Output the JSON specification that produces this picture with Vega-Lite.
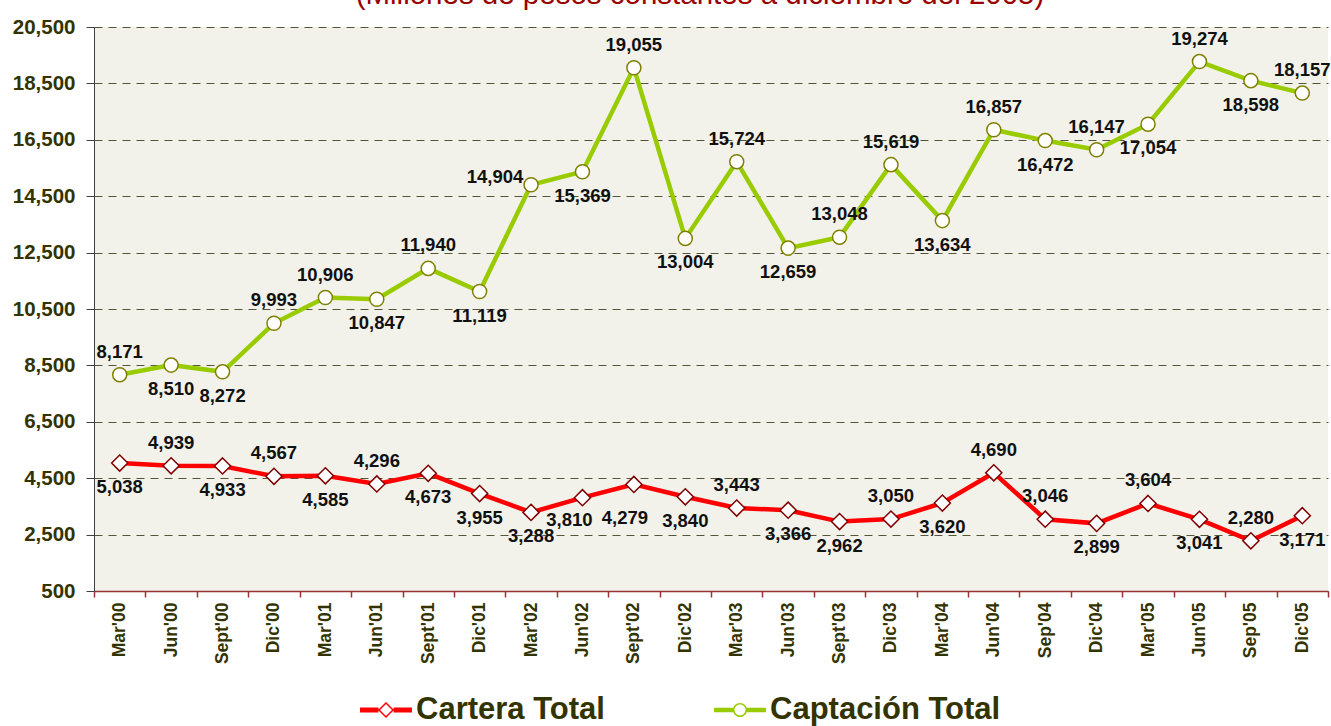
{
  "$schema": "https://vega.github.io/schema/vega-lite/v6.json",
  "width": 1234,
  "height": 564,
  "autosize": {"type": "none"},
  "padding": {"left": 94, "top": 27, "right": 3, "bottom": 135},
  "background": "white",
  "title": {
    "text": "(Millones de pesos constantes a diciembre del 2005)",
    "font": "Liberation Sans, Arial, sans-serif",
    "fontSize": 29.5,
    "fontWeight": "normal",
    "color": "#990000",
    "anchor": "middle",
    "baseline": "alphabetic",
    "dx": -11,
    "offset": -16
  },
  "config": {
    "font": "Liberation Sans, Arial, sans-serif",
    "view": {"fill": "#F2F2EA", "stroke": null}
  },
  "data": {
    "values": [
      {"mes": "Mar'00", "serie": "Cartera Total", "valor": 5038},
      {"mes": "Jun'00", "serie": "Cartera Total", "valor": 4939},
      {"mes": "Sept'00", "serie": "Cartera Total", "valor": 4933},
      {"mes": "Dic'00", "serie": "Cartera Total", "valor": 4567},
      {"mes": "Mar'01", "serie": "Cartera Total", "valor": 4585},
      {"mes": "Jun'01", "serie": "Cartera Total", "valor": 4296},
      {"mes": "Sept'01", "serie": "Cartera Total", "valor": 4673},
      {"mes": "Dic'01", "serie": "Cartera Total", "valor": 3955},
      {"mes": "Mar'02", "serie": "Cartera Total", "valor": 3288},
      {"mes": "Jun'02", "serie": "Cartera Total", "valor": 3810},
      {"mes": "Sept'02", "serie": "Cartera Total", "valor": 4279},
      {"mes": "Dic'02", "serie": "Cartera Total", "valor": 3840},
      {"mes": "Mar'03", "serie": "Cartera Total", "valor": 3443},
      {"mes": "Jun'03", "serie": "Cartera Total", "valor": 3366},
      {"mes": "Sept'03", "serie": "Cartera Total", "valor": 2962},
      {"mes": "Dic'03", "serie": "Cartera Total", "valor": 3050},
      {"mes": "Mar'04", "serie": "Cartera Total", "valor": 3620},
      {"mes": "Jun'04", "serie": "Cartera Total", "valor": 4690},
      {"mes": "Sep'04", "serie": "Cartera Total", "valor": 3046},
      {"mes": "Dic'04", "serie": "Cartera Total", "valor": 2899},
      {"mes": "Mar'05", "serie": "Cartera Total", "valor": 3604},
      {"mes": "Jun'05", "serie": "Cartera Total", "valor": 3041},
      {"mes": "Sep'05", "serie": "Cartera Total", "valor": 2280},
      {"mes": "Dic'05", "serie": "Cartera Total", "valor": 3171},
      {"mes": "Mar'00", "serie": "Captación Total", "valor": 8171},
      {"mes": "Jun'00", "serie": "Captación Total", "valor": 8510},
      {"mes": "Sept'00", "serie": "Captación Total", "valor": 8272},
      {"mes": "Dic'00", "serie": "Captación Total", "valor": 9993},
      {"mes": "Mar'01", "serie": "Captación Total", "valor": 10906},
      {"mes": "Jun'01", "serie": "Captación Total", "valor": 10847},
      {"mes": "Sept'01", "serie": "Captación Total", "valor": 11940},
      {"mes": "Dic'01", "serie": "Captación Total", "valor": 11119},
      {"mes": "Mar'02", "serie": "Captación Total", "valor": 14904},
      {"mes": "Jun'02", "serie": "Captación Total", "valor": 15369},
      {"mes": "Sept'02", "serie": "Captación Total", "valor": 19055},
      {"mes": "Dic'02", "serie": "Captación Total", "valor": 13004},
      {"mes": "Mar'03", "serie": "Captación Total", "valor": 15724},
      {"mes": "Jun'03", "serie": "Captación Total", "valor": 12659},
      {"mes": "Sept'03", "serie": "Captación Total", "valor": 13048},
      {"mes": "Dic'03", "serie": "Captación Total", "valor": 15619},
      {"mes": "Mar'04", "serie": "Captación Total", "valor": 13634},
      {"mes": "Jun'04", "serie": "Captación Total", "valor": 16857},
      {"mes": "Sep'04", "serie": "Captación Total", "valor": 16472},
      {"mes": "Dic'04", "serie": "Captación Total", "valor": 16147},
      {"mes": "Mar'05", "serie": "Captación Total", "valor": 17054},
      {"mes": "Jun'05", "serie": "Captación Total", "valor": 19274},
      {"mes": "Sep'05", "serie": "Captación Total", "valor": 18598},
      {"mes": "Dic'05", "serie": "Captación Total", "valor": 18157}
    ]
  },
  "encoding": {
    "x": {
      "field": "mes",
      "type": "nominal",
      "sort": ["Mar'00","Jun'00","Sept'00","Dic'00","Mar'01","Jun'01","Sept'01","Dic'01","Mar'02","Jun'02","Sept'02","Dic'02","Mar'03","Jun'03","Sept'03","Dic'03","Mar'04","Jun'04","Sep'04","Dic'04","Mar'05","Jun'05","Sep'05","Dic'05"],
      "scale": {"type": "band", "paddingInner": 0, "paddingOuter": 0},
      "axis": {
        "title": null,
        "labelAngle": -90,
        "labelFontSize": 17.5,
        "labelFontWeight": "bold",
        "labelColor": "#333300",
        "labelPadding": 5,
        "tickBand": "extent",
        "tickSize": 6,
        "tickColor": "#993333",
        "domainColor": "#993333",
        "domainWidth": 1.5,
        "tickWidth": 1.5,
        "grid": false
      }
    },
    "y": {
      "field": "valor",
      "type": "quantitative",
      "scale": {"domain": [500, 20500], "nice": false, "zero": false},
      "axis": {
        "title": null,
        "values": [500, 2500, 4500, 6500, 8500, 10500, 12500, 14500, 16500, 18500, 20500],
        "format": ",.0f",
        "labelFontSize": 20.5,
        "labelFontWeight": "bold",
        "labelColor": "#333300",
        "labelPadding": 11,
        "tickSize": 8,
        "tickColor": "#404040",
        "domainColor": "#404040",
        "grid": true,
        "gridColor": "#55553a",
        "gridDash": [8, 6],
        "gridWidth": 1
      }
    }
  },
  "layer": [
    {
      "mark": {"type": "line", "strokeWidth": 4.5},
      "encoding": {
        "color": {
          "field": "serie",
          "type": "nominal",
          "sort": ["Cartera Total", "Captación Total"],
          "scale": {"range": ["#FF0000", "#99CC00"]},
          "legend": {
            "title": null,
            "orient": "none",
            "legendX": 266,
            "legendY": 657,
            "direction": "horizontal",
            "padding": 0,
            "symbolSize": 2704,
            "symbolStrokeWidth": 0,
            "labelFont": "Liberation Sans, Arial, sans-serif",
            "labelFontSize": 31,
            "labelFontWeight": "bold",
            "labelColor": "#333300",
            "labelOffset": 4,
            "columnPadding": 109,
            "labelLimit": 400,
            "encode": {
              "symbols": {
                "update": {
                  "shape": {"signal": "datum.value === 'Cartera Total' ? 'M-1,-0.096L-0.29,-0.096L-0.29,0.096L-1,0.096ZM0.29,-0.096L1,-0.096L1,0.096L0.29,0.096ZM0,-0.31L0.31,0L0,0.31L-0.31,0ZM0,-0.23L-0.23,0L0,0.23L0.23,0Z' : 'M-1,-0.085L-0.25,-0.085L-0.25,0.085L-1,0.085ZM0.25,-0.085L1,-0.085L1,0.085L0.25,0.085ZM-0.27,0A0.27,0.27 0 1,1 0.27,0A0.27,0.27 0 1,1 -0.27,0ZM-0.21,0A0.21,0.21 0 1,0 0.21,0A0.21,0.21 0 1,0 -0.21,0Z'"},
                  "fill": {"scale": "color", "field": "value"},
                  "fillOpacity": {"value": 1},
                  "strokeWidth": {"value": 0},
                  "opacity": {"value": 1}
                }
              }
            }
          }
        }
      }
    },
    {
      "mark": {"type": "point", "filled": false, "fill": "white", "fillOpacity": 1, "opacity": 1, "size": 2704, "strokeWidth": 1.5},
      "encoding": {
        "shape": {
          "field": "serie",
          "type": "nominal",
          "sort": ["Cartera Total", "Captación Total"],
          "scale": {"range": ["M0,-0.31L0.31,0L0,0.31L-0.31,0Z", "M-0.27,0A0.27,0.27 0 1,0 0.27,0A0.27,0.27 0 1,0 -0.27,0Z"]},
          "legend": null
        },
        "stroke": {
          "field": "serie",
          "type": "nominal",
          "sort": ["Cartera Total", "Captación Total"],
          "scale": {"range": ["#800000", "#808000"]},
          "legend": null
        }
      }
    },
    {
      "transform": [{"filter": {"or": [
        {"and": [{"field": "serie", "equal": "Captación Total"}, {"field": "mes", "oneOf": ["Mar'00","Dic'00","Mar'01","Sept'01","Sept'02","Mar'03","Sept'03","Dic'03","Jun'04","Dic'04","Jun'05","Dic'05"]}]},
        {"and": [{"field": "serie", "equal": "Cartera Total"}, {"field": "mes", "oneOf": ["Jun'00","Dic'00","Jun'01","Mar'03","Dic'03","Jun'04","Sep'04","Mar'05","Sep'05"]}]}
      ]}}],
      "mark": {"type": "text", "dy": -23, "fontSize": 18.5, "fontWeight": "bold", "color": "#111111", "baseline": "middle", "align": "center"},
      "encoding": {"text": {"field": "valor", "type": "quantitative", "format": ",.0f"}}
    },
    {
      "transform": [{"filter": {"or": [
        {"and": [{"field": "serie", "equal": "Captación Total"}, {"field": "mes", "oneOf": ["Jun'00","Sept'00","Jun'01","Dic'01","Jun'02","Dic'02","Jun'03","Mar'04","Sep'04","Mar'05","Sep'05"]}]},
        {"and": [{"field": "serie", "equal": "Cartera Total"}, {"field": "mes", "oneOf": ["Mar'00","Sept'00","Mar'01","Sept'01","Dic'01","Mar'02","Dic'02","Jun'03","Sept'03","Mar'04","Dic'04","Jun'05","Dic'05"]}]}
      ]}}],
      "mark": {"type": "text", "dy": 24, "fontSize": 18.5, "fontWeight": "bold", "color": "#111111", "baseline": "middle", "align": "center"},
      "encoding": {"text": {"field": "valor", "type": "quantitative", "format": ",.0f"}}
    },
    {
      "transform": [{"filter": {"and": [{"field": "serie", "equal": "Captación Total"}, {"field": "mes", "equal": "Mar'02"}]}}],
      "mark": {"type": "text", "dx": -36, "dy": -8, "fontSize": 18.5, "fontWeight": "bold", "color": "#111111", "baseline": "middle", "align": "center"},
      "encoding": {"text": {"field": "valor", "type": "quantitative", "format": ",.0f"}}
    },
    {
      "transform": [{"filter": {"and": [{"field": "serie", "equal": "Cartera Total"}, {"field": "mes", "equal": "Jun'02"}]}}],
      "mark": {"type": "text", "dx": -13, "dy": 22, "fontSize": 18.5, "fontWeight": "bold", "color": "#111111", "baseline": "middle", "align": "center"},
      "encoding": {"text": {"field": "valor", "type": "quantitative", "format": ",.0f"}}
    },
    {
      "transform": [{"filter": {"and": [{"field": "serie", "equal": "Cartera Total"}, {"field": "mes", "equal": "Sept'02"}]}}],
      "mark": {"type": "text", "dx": -9, "dy": 34, "fontSize": 18.5, "fontWeight": "bold", "color": "#111111", "baseline": "middle", "align": "center"},
      "encoding": {"text": {"field": "valor", "type": "quantitative", "format": ",.0f"}}
    }
  ]
}
